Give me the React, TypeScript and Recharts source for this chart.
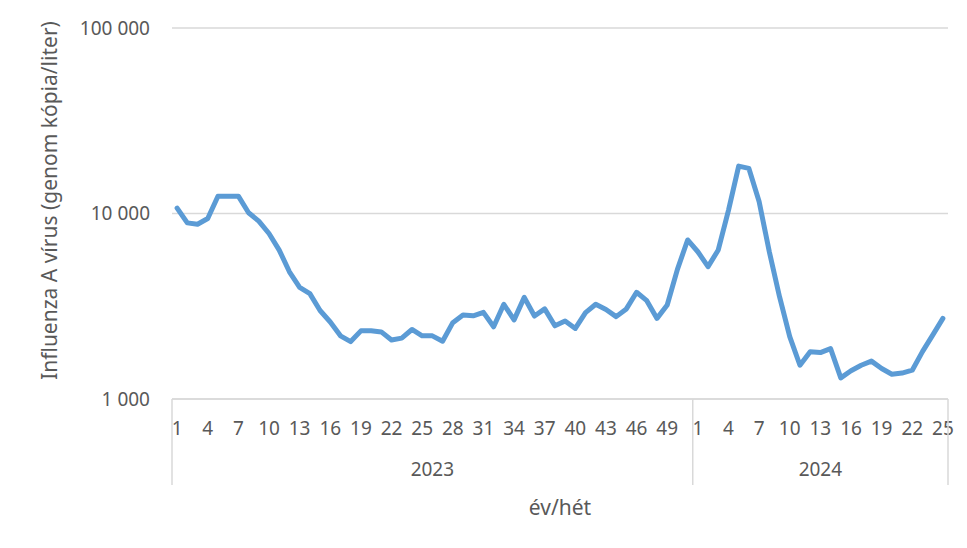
import { CartesianGrid, Label, Line, LineChart, XAxis, YAxis } from "recharts";

// weekly Influenza A concentration in wastewater, 2023 week 1 – 2024 week 25
const weeks2023 = [
  1, 2, 3, 4, 5, 6, 7, 8, 9, 10, 11, 12, 13, 14, 15, 16, 17, 18, 19, 20, 21, 22, 23, 24, 25, 26,
  27, 28, 29, 30, 31, 32, 33, 34, 35, 36, 37, 38, 39, 40, 41, 42, 43, 44, 45, 46, 47, 48, 49, 50, 51
];
const values2023 = [
  10700, 8900, 8750, 9400, 12400, 12400, 12400, 10100, 9100, 7800, 6350, 4850, 4000, 3700, 3000,
  2600, 2190, 2040, 2330, 2330, 2300, 2080, 2130, 2370, 2190, 2190, 2050, 2580, 2840, 2810, 2930,
  2450, 3240, 2670, 3530, 2800, 3060, 2480, 2630, 2400, 2920, 3240, 3040, 2780, 3060, 3760, 3390,
  2720, 3210, 5000, 7200
];
const weeks2024 = [
  1, 2, 3, 4, 5, 6, 7, 8, 9, 10, 11, 12, 13, 14, 15, 16, 17, 18, 19, 20, 21, 22, 23, 24, 25
];
const values2024 = [
  6220, 5170, 6360, 10400, 18000, 17500, 11600, 6220, 3560, 2170, 1520, 1800, 1780, 1870, 1300,
  1420, 1520, 1600, 1460, 1360, 1380, 1430, 1800, 2210, 2720
];
const yTicks = [1000, 10000, 100000];

const W = 967;
const H = 548;
const MARGIN = { top: 28, right: 19, bottom: 0, left: 0 };
const Y_AXIS_W = 172;
const LINE_COLOR = "#5b9bd5";
const AXIS_COLOR = "#d9d9d9";
const TEXT_COLOR = "#595959";
const FONT = "'Noto Sans', 'Open Sans', sans-serif";
const FONT_SIZE = 19;
const TITLE_SIZE = 21;

type Row = { key: string; year: string; week: number; value: number };

const rows: Row[] = [
  ...weeks2023.map((week, i) => ({ key: `2023-${week}`, year: "2023", week, value: values2023[i] })),
  ...weeks2024.map((week, i) => ({ key: `2024-${week}`, year: "2024", week, value: values2024[i] }))
];

const bandWidth = (W - MARGIN.left - MARGIN.right - Y_AXIS_W) / rows.length;

function formatThousands(v: number) {
  return String(v).replace(/\B(?=(\d{3})+(?!\d))/g, " ");
}

// two-level category axis: week numbers, then year with separators
function WeekTick(props: any) {
  const { x, y } = props;
  const index = props.index ?? props.payload?.index ?? 0;
  const row = rows[index];
  if (!row) return null;
  const isFirstOfYear = index === 0 || rows[index - 1].year !== row.year;
  const isLast = index === rows.length - 1;
  const yearCount = rows.filter((r) => r.year === row.year).length;

  return (
    <g>
      {(row.week - 1) % 3 === 0 && (
        <text
          x={x}
          y={y + 36}
          textAnchor="middle"
          fill={TEXT_COLOR}
          fontSize={FONT_SIZE}
          fontFamily={FONT}
        >
          {row.week}
        </text>
      )}
      {isFirstOfYear && (
        <>
          <line
            x1={x - bandWidth / 2}
            x2={x - bandWidth / 2}
            y1={y}
            y2={y + 86}
            stroke={AXIS_COLOR}
            strokeWidth={1.5}
          />
          <text
            x={x - bandWidth / 2 + (yearCount * bandWidth) / 2}
            y={y + 77}
            textAnchor="middle"
            fill={TEXT_COLOR}
            fontSize={FONT_SIZE}
            fontFamily={FONT}
          >
            {row.year}
          </text>
        </>
      )}
      {isLast && (
        <line
          x1={x + bandWidth / 2}
          x2={x + bandWidth / 2}
          y1={y}
          y2={y + 86}
          stroke={AXIS_COLOR}
          strokeWidth={1.5}
        />
      )}
    </g>
  );
}

function YTitle(props: any) {
  const vb = props.viewBox ?? { x: 0, y: 0, height: 0 };
  const cx = vb.x + 57;
  const cy = vb.y + vb.height / 2 - 13;
  return (
    <text
      x={cx}
      y={cy}
      transform={`rotate(-90 ${cx} ${cy})`}
      textAnchor="middle"
      fill={TEXT_COLOR}
      fontSize={TITLE_SIZE}
      fontFamily={FONT}
    >
      Influenza A vírus (genom kópia/liter)
    </text>
  );
}

export default function App() {
  return (
    <div style={{ position: "absolute", left: 0, top: 0, background: "#fff" }}>
      <LineChart width={W} height={H} data={rows} margin={MARGIN}>
        <CartesianGrid vertical={false} stroke={AXIS_COLOR} strokeWidth={1.3} />
        <XAxis
          dataKey="key"
          type="category"
          scale="band"
          interval={0}
          height={H - 399}
          axisLine={{ stroke: AXIS_COLOR, strokeWidth: 1.5 }}
          tickLine={false}
          tickSize={0}
          tickMargin={0}
          tick={<WeekTick />}
        >
          <Label
            value="év/hét"
            position="insideBottom"
            offset={33}
            fill={TEXT_COLOR}
            fontSize={TITLE_SIZE}
            fontFamily={FONT}
          />
        </XAxis>
        <YAxis
          type="number"
          scale="log"
          domain={[1000, 100000]}
          ticks={yTicks}
          allowDataOverflow
          width={Y_AXIS_W}
          axisLine={false}
          tickLine={false}
          tickSize={0}
          tickMargin={22}
          tickFormatter={formatThousands}
          tick={{ fill: TEXT_COLOR, fontSize: FONT_SIZE, fontFamily: FONT }}
        >
          <Label content={<YTitle />} />
        </YAxis>
        <Line
          type="linear"
          dataKey="value"
          stroke={LINE_COLOR}
          strokeWidth={5}
          strokeLinejoin="round"
          strokeLinecap="round"
          dot={false}
          activeDot={false}
          isAnimationActive={false}
        />
      </LineChart>
    </div>
  );
}
